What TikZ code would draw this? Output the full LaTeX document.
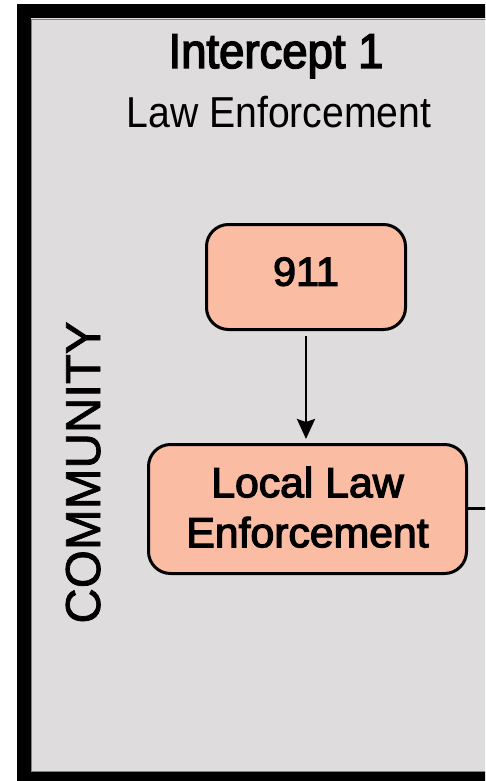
\documentclass[tikz,border=0pt]{standalone}
\usepackage{fontspec}
\setmainfont{Liberation Sans}
\usetikzlibrary{arrows.meta}
\definecolor{grau}{RGB}{222,220,221}
\definecolor{lachs}{RGB}{250,188,163}
\definecolor{grauRand}{RGB}{128,128,128}
\newfontfamily\titlefont[FakeStretch=0.93,FakeBold=3]{Liberation Sans}
\newfontfamily\subfont[FakeStretch=0.905]{Liberation Sans}
\newfontfamily\boxfont[FakeStretch=1.02,FakeBold=3]{Liberation Sans}
\newfontfamily\sidefont[FakeBold=1.5]{Liberation Sans}
\tikzstyle{frame} = [line width=14pt,draw=black,fill=grau]
\tikzstyle{stage} = [line width=3pt,draw=black,fill=lachs,rectangle,rounded corners=22pt,inner sep=0pt,align=center]
\tikzstyle{edge} = [-{Stealth[length=20pt,width=18pt,inset=3pt]},line width=2.7pt,draw=black,shorten <=5pt,shorten >=4pt]

\begin{document}
\begin{tikzpicture}[x=1pt,y=-1pt]
\useasboundingbox (0,0) rectangle (485,781);
\clip (0,0) rectangle (485,781);

% frame
\draw[frame] (24,11.5) rectangle (600,779);
\draw[grauRand,line width=1pt] (31.5,19.5) rectangle (600,771.5);

\node[anchor=base,font={\fontsize{48.9}{58}\titlefont}] (T) at (276,68) {Intercept 1};
\node[anchor=base,font={\fontsize{43.3}{52}\subfont}] (U) at (279,128) {Law Enforcement};

\node[anchor=base,rotate=90,font={\fontsize{49}{58}\sidefont}] (K) at (100,472.5) {COMMUNITY};

\node[stage,minimum width=199pt,minimum height=105pt,text depth=11pt,font={\fontsize{40.5}{48}\boxfont}] (N) at (306,277) {911};
\node[stage,minimum width=318pt,minimum height=129pt,text depth=4pt,font={\fontsize{41.9}{50}\boxfont}] (LE) at (307.5,509) {Local Law\\Enforcement};

\draw[edge] (N.south) -- (N.south |- LE.north);

\coordinate (R) at (500,508);
\draw[line width=3pt] (LE.east |- R) -- (R);
\end{tikzpicture}
\end{document}
